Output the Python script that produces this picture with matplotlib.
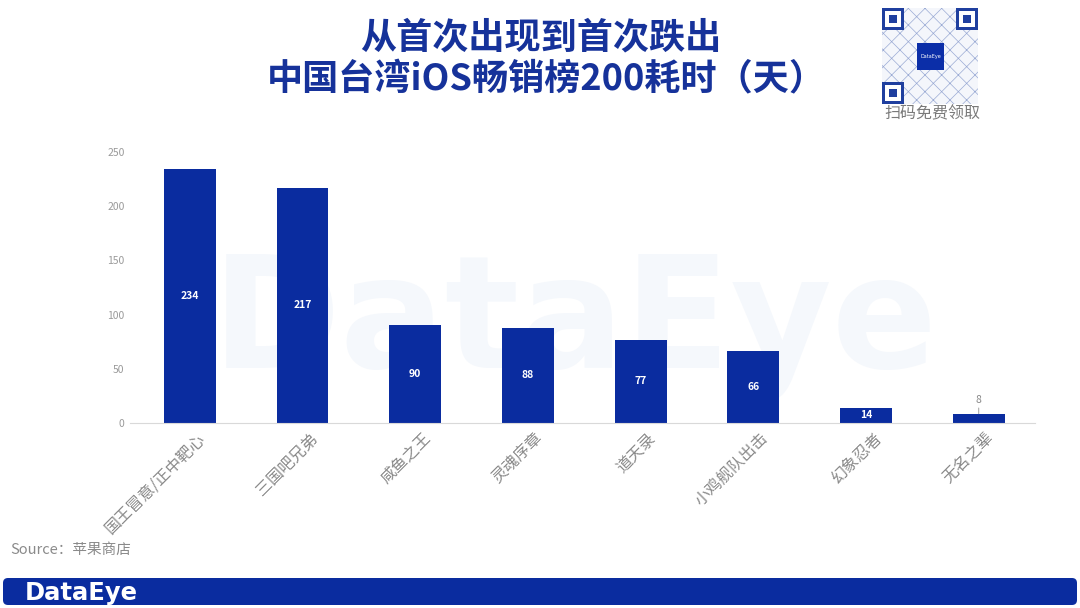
import matplotlib
matplotlib.use("Agg")
import matplotlib.pyplot as plt
import matplotlib.transforms as mtransforms
from matplotlib.patches import FancyBboxPatch, Rectangle

plt.rcParams["font.family"] = ["Noto Sans CJK SC", "DejaVu Sans"]
plt.rcParams["hatch.linewidth"] = 0.5

# ---------------------------------------------------------------------------
# Data
# ---------------------------------------------------------------------------
games = ["国王冒意/正中靶心", "三国吧兄弟", "咸鱼之王", "灵魂序章",
         "道天录", "小鸡舰队出击", "幻象忍者", "无名之辈"]
days = [234, 217, 90, 88, 77, 66, 14, 8]
y_ticks = [0, 50, 100, 150, 200, 250]

title_lines = ["从首次出现到首次跌出", "中国台湾iOS畅销榜200耗时（天）"]
source_text = "Source：苹果商店"

BAR_COLOR = "#0a2c9f"
TITLE_COLOR = "#16329a"
GRAY = "#8a8a8a"

fig = plt.figure(figsize=(10.8, 6.08), dpi=100)

# background / overlay axes in pixel coordinates
bg = fig.add_axes([0, 0, 1, 1], zorder=0)
bg.set_xlim(0, 1080)
bg.set_ylim(608, 0)
bg.axis("off")

# faint watermark behind the bars
bg.text(575, 326, "DataEye", fontsize=112, fontweight="bold", color="#f5f8fc",
        ha="center", va="center", family="DejaVu Sans", zorder=0)

# title
bg.text(541, 38, title_lines[0], fontsize=26, fontweight="bold",
        color=TITLE_COLOR, ha="center", va="center")
bg.text(546, 80, title_lines[1], fontsize=26, fontweight="bold",
        color=TITLE_COLOR, ha="center", va="center")

# QR code stand-in
qx, qy, qs = 882, 8, 96
bg.add_patch(Rectangle((qx, qy), qs, qs, facecolor="#f4f6fb", edgecolor="#9aaad4",
                       hatch="xx", linewidth=0))
for fx, fy in [(qx, qy), (qx + qs - 22, qy), (qx, qy + qs - 22)]:
    bg.add_patch(Rectangle((fx, fy), 22, 22, facecolor="#1f3f9f", edgecolor="none"))
    bg.add_patch(Rectangle((fx + 3, fy + 3), 16, 16, facecolor="white", edgecolor="none"))
    bg.add_patch(Rectangle((fx + 7, fy + 7), 8, 8, facecolor="#1f3f9f", edgecolor="none"))
bg.add_patch(Rectangle((qx + 35, qy + 35), 27, 27, facecolor="#0b2ea8", edgecolor="none"))
bg.text(qx + 48.5, qy + 48.5, "DataEye", fontsize=3.5, color="white", ha="center",
        va="center", family="DejaVu Sans")
bg.text(932, 114, "扫码免费领取", fontsize=11.5, color="#7a7a7a", ha="center", va="center")

# source
bg.text(10, 550, source_text, fontsize=10.5, color=GRAY, ha="left", va="center")

# footer band
bg.add_patch(FancyBboxPatch((3, 578), 1074, 27, boxstyle="round,pad=0,rounding_size=5",
                            facecolor="#0a2c9f", edgecolor="none"))
bg.text(25, 593, "DataEye", fontsize=17.5, fontweight="bold", color="white",
        ha="left", va="center", family="DejaVu Sans")

# ---------------------------------------------------------------------------
# Main bar chart
# ---------------------------------------------------------------------------
ax = fig.add_axes([0.1204, 0.3043, 0.838, 0.4457], zorder=1)
ax.patch.set_alpha(0)

x = list(range(len(games)))
bars = ax.bar(x, days, width=0.46, color=BAR_COLOR, zorder=2)

ax.set_xlim(-0.53, len(games) - 0.5)
ax.set_ylim(0, 250)
ax.set_yticks(y_ticks)
ax.tick_params(axis="y", length=0, labelsize=7.5, labelcolor="#9a9a9a", pad=4)
ax.set_xticks(x)
ax.set_xticklabels(games, rotation=45, ha="right", va="top",
                   rotation_mode="anchor", fontsize=11.5, color=GRAY)
ax.tick_params(axis="x", length=0, pad=5)
offset = mtransforms.ScaledTranslation(0.07, 0, fig.dpi_scale_trans)
for lbl in ax.get_xticklabels():
    lbl.set_transform(lbl.get_transform() + offset)

for side in ["top", "right", "left"]:
    ax.spines[side].set_visible(False)
ax.spines["bottom"].set_color("#d9d9d9")
ax.spines["bottom"].set_linewidth(0.8)

for xi, v in zip(x, days):
    if v >= 12:
        ax.text(xi, v / 2, str(v), ha="center", va="center", fontsize=7.5,
                fontweight="bold", color="white", zorder=3)
    else:
        ax.annotate(str(v), xy=(xi, v), xytext=(xi + 0.0, v + 13),
                    ha="center", va="center", fontsize=7.5, color="#8a8a8a",
                    arrowprops=dict(arrowstyle="-", color="#a0a0a0", lw=0.7,
                                    shrinkA=5, shrinkB=0.5))

fig.savefig("out.png", dpi=100)
